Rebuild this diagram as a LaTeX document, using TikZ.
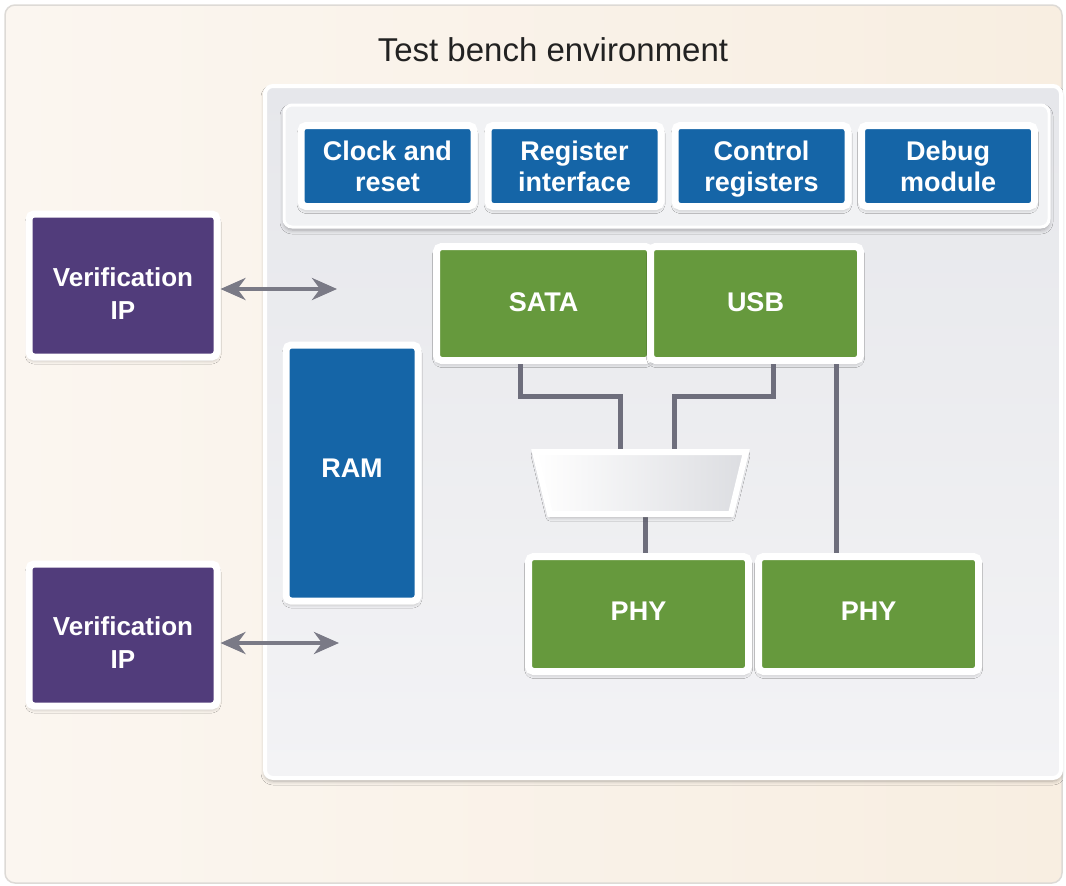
\documentclass[tikz,border=0pt]{standalone}
\usepackage{fontspec}
\setmainfont{Liberation Sans}
\usetikzlibrary{shadows.blur,arrows.meta}

\definecolor{bgwarm}{HTML}{F8EEE1}
\definecolor{bglight}{HTML}{FBF6F0}
\definecolor{framegray}{HTML}{DDDAD6}
\definecolor{paneltop}{HTML}{E6E7EB}
\definecolor{panelbot}{HTML}{F3F3F5}
\definecolor{rowfill}{HTML}{F1F2F4}
\definecolor{blockblue}{HTML}{1565A7}
\definecolor{blockgreen}{HTML}{66993D}
\definecolor{vipurple}{HTML}{513C7B}
\definecolor{wiregray}{HTML}{6E6E7C}
\definecolor{arrowgray}{HTML}{7A7A86}
\definecolor{titlegray}{HTML}{222222}
\definecolor{muxshade}{HTML}{DCDDE1}

\begin{document}
\begin{tikzpicture}[x=1pt,y=-1pt,
  softshadow/.style={blur shadow={shadow blur steps=6, shadow xshift=0pt, shadow yshift=-3pt, shadow blur radius=4pt, shadow opacity=30}},
  block/.style={draw=white, line width=7pt, rounded corners=5pt, inner sep=0pt,
    text=white, align=center, font=\fontsize{27}{31}\selectfont\bfseries, softshadow},
  bluebox/.style={block, fill=blockblue, text depth=0pt},
  greenbox/.style={block, fill=blockgreen},
  purplebox/.style={block, fill=vipurple, font=\fontsize{26}{33}\selectfont\bfseries, text height=67pt, text depth=0pt},
  wire/.style={draw=wiregray, line width=5pt},
  biarrow/.style={draw=arrowgray, line width=4pt,
    {Stealth[length=25pt,width=22pt,inset=8pt]}-{Stealth[length=25pt,width=22pt,inset=8pt]}}
]
\useasboundingbox (0,0) rectangle (1066,886);

% outer frame with warm background
\node[draw=framegray, line width=1.5pt, rounded corners=10pt, inner sep=0pt,
  left color=bglight, right color=bgwarm,
  minimum width=1057pt, minimum height=878pt] (frame) at (533.5,444) {};

\node[font=\fontsize{33}{40}\selectfont, text=titlegray, inner sep=0pt] (title) at (553,50) {Test bench environment};

% test bench panel
\node[draw=white, line width=4pt, rounded corners=8pt, inner sep=0pt,
  top color=paneltop, bottom color=panelbot, softshadow,
  minimum width=796pt, minimum height=692pt] (env) at (663,432) {};

% row of support blocks
\node[draw=white, line width=3pt, rounded corners=8pt, inner sep=0pt, fill=rowfill, softshadow,
  minimum width=765pt, minimum height=122pt] (toprow) at (666.5,166) {};

\node[bluebox, minimum width=173pt, minimum height=81pt] (clk) at (387.5,166) {Clock and\\reset};
\node[bluebox, minimum width=173pt, minimum height=81pt] (regif) at (574.5,166) {Register\\interface};
\node[bluebox, minimum width=173pt, minimum height=81pt] (ctrl) at (761.5,166) {Control\\registers};
\node[bluebox, minimum width=173pt, minimum height=81pt] (dbg) at (948,166) {Debug\\module};

% memory
\node[bluebox, text depth=10pt, minimum width=132pt, minimum height=256pt] (ram) at (352,473) {RAM};

% controllers
\node[greenbox, text depth=2pt, minimum width=214pt, minimum height=114pt] (sata) at (543.5,303.5) {SATA};
\node[greenbox, text depth=2pt, minimum width=210pt, minimum height=114pt] (usb) at (755.5,303.5) {USB};

% multiplexer frame (its trapezoid outline is drawn below, over the wires)
\node[inner sep=0pt, outer sep=0pt, minimum width=211pt, minimum height=62pt] (mux) at (640.5,483) {};

% physical layers
\node[greenbox, text depth=6pt, minimum width=220pt, minimum height=115pt] (phya) at (638.5,614) {PHY};
\node[greenbox, text depth=6pt, minimum width=220pt, minimum height=115pt] (phyb) at (868.5,614) {PHY};

% verification IP blocks
\node[purplebox, minimum width=188pt, minimum height=143pt] (vipa) at (123,285.5) {Verification\\IP};
\node[purplebox, minimum width=188pt, minimum height=142pt] (vipb) at (123,635) {Verification\\IP};

% connections
\draw[wire] ([xshift=-23.5pt]sata.south) -- ++(0,32) -| ([xshift=-20.5pt]mux.north);
\draw[wire] ([xshift=17.5pt]usb.south) -- ++(0,32) -| ([xshift=33.5pt]mux.north);
\draw[wire] ([xshift=80.5pt]usb.south) -- ([xshift=80.5pt]usb.south |- phyb.north);
\draw[wire] ([xshift=4.5pt]mux.south) -- ([xshift=4.5pt]mux.south |- phya.north);

% multiplexer body, wide side up
\path[draw=white, line width=6pt, line join=miter, left color=white, right color=muxshade, softshadow]
  (mux.north west) -- (mux.north east) -- ([xshift=-15pt]mux.south east)
  -- ([xshift=15pt]mux.south west) -- cycle;

\coordinate (enda) at (337,289);
\coordinate (endb) at (339,643);
\draw[biarrow] (vipa.east |- enda) -- (enda);
\draw[biarrow] (vipb.east |- endb) -- (endb);
\end{tikzpicture}
\end{document}
